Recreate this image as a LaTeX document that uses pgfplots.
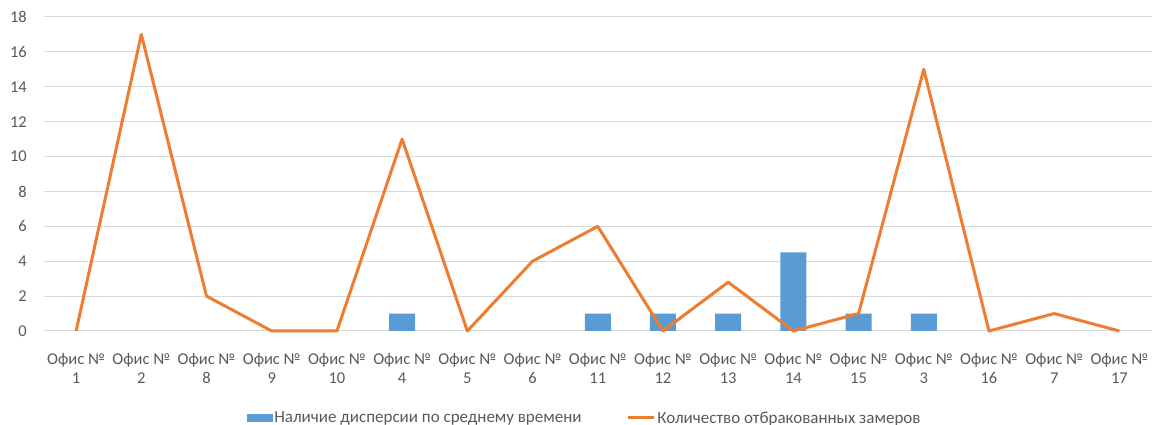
\documentclass[border=0pt]{standalone}
\usepackage{fontspec}
\setmainfont{Carlito}
\usepackage{pgfplots}
\pgfplotsset{compat=1.18}
\definecolor{cblue}{HTML}{5B9BD5}
\definecolor{corange}{HTML}{ED7D31}
\definecolor{ctext}{HTML}{595959}
\definecolor{cgrid}{HTML}{D9D9D9}
\begin{document}
\begin{tikzpicture}
\useasboundingbox (0,0) rectangle (1152pt,425pt);
\begin{axis}[
  at={(43.5pt,94pt)}, anchor=south west,
  scale only axis, width=1108.5pt, height=314pt,
  xmin=-0.5, xmax=16.5, ymin=0, ymax=18,
  ytick={0,2,...,18},
  xtick={0,...,16},
  xticklabels={{Офис №\\1},{Офис №\\2},{Офис №\\8},{Офис №\\9},{Офис №\\10},{Офис №\\4},{Офис №\\5},{Офис №\\6},{Офис №\\11},{Офис №\\12},{Офис №\\13},{Офис №\\14},{Офис №\\15},{Офис №\\3},{Офис №\\16},{Офис №\\7},{Офис №\\17}},
  axis line style={draw=none},
  ymajorgrids, grid style={cgrid, line width=1pt},
  major tick length=0pt,
  /pgf/number format/assume math mode=true,
  tick label style={font=\fontsize{16.5}{19}\selectfont, text=ctext},
  xticklabel style={align=center, inner sep=0pt, anchor=north, yshift=-22pt},
  yticklabel style={inner sep=0pt, anchor=east, xshift=-16.5pt},
  legend columns=2,
  legend style={at={(0.488,-0.277)}, anchor=center, draw=none, fill=none,
    font=\fontsize{17}{19}\selectfont, text=ctext,
    nodes={inner sep=1.5pt},
    /tikz/every even column/.append style={column sep=44pt}},
  clip=false,
]
\addplot[ybar, bar width=26pt, fill=cblue, draw=none,
  legend image code/.code={\fill[cblue] (0pt,-4pt) rectangle (26pt,4pt);}]
  coordinates {(5,1) (8,1) (9,1) (10,1) (11,4.5) (12,1) (13,1)};
\addlegendentry{Наличие дисперсии по среднему времени}
\addplot[corange, line width=3pt, mark=none, line join=round,
  legend image code/.code={\draw[corange,line width=3pt] (0pt,0pt) -- (26pt,0pt);}]
  coordinates {(0,0) (1,17) (2,2) (3,0) (4,0) (5,11) (6,0) (7,4) (8,6) (9,0) (10,2.8) (11,0) (12,1) (13,15) (14,0) (15,1) (16,0)};
\addlegendentry{Количество отбракованных замеров}
\end{axis}
\end{tikzpicture}
\end{document}
